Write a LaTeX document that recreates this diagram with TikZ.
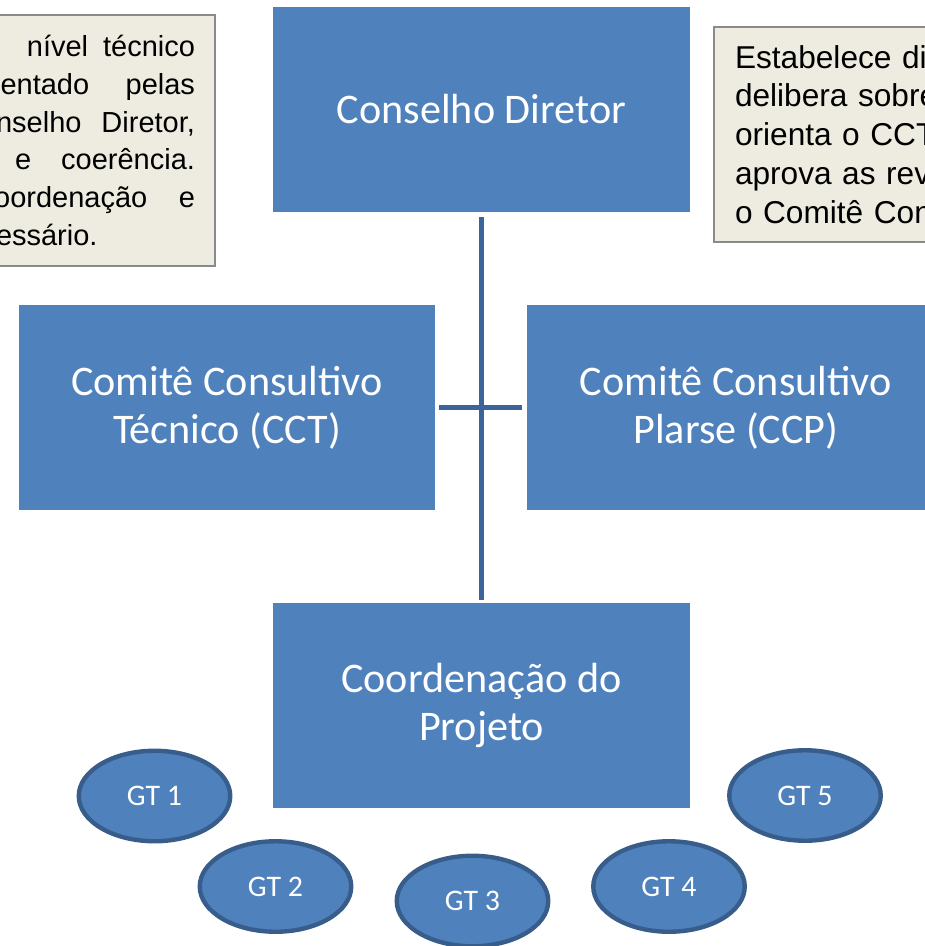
\documentclass[tikz,border=0pt]{standalone}
\usepackage{fontspec}
\setmainfont{Carlito}
\newfontfamily\notafont{Liberation Sans}
\usetikzlibrary{shapes.geometric}
\usetikzlibrary{positioning}
\definecolor{caixa}{HTML}{4F81BD}
\definecolor{borda}{HTML}{385D8A}
\definecolor{linha}{HTML}{3C649B}
\definecolor{nota}{HTML}{EEECE1}
\definecolor{notaborda}{HTML}{8A8A8A}

\begin{document}
\begin{tikzpicture}[x=0.02cm, y=-0.02cm,
    bloco/.style={rectangle, fill=caixa, text=white, minimum width=8.34cm, minimum height=4.1cm,
        align=center, inner sep=0, outer sep=0, font=\fontsize{24}{27.2}\selectfont},
    gt/.style={ellipse, fill=caixa, draw=borda, line width=2.5pt, minimum width=3.03cm,
        minimum height=1.81cm, inner sep=0, text=white, font=\fontsize{17}{20}\selectfont},
    nota/.style={rectangle, fill=nota, draw=notaborda, line width=1.2pt, inner ysep=0},
    ligacao/.style={draw=linha, line width=3.4pt}]
        \useasboundingbox (0,0) rectangle (925,946);
        \clip (0,0) rectangle (925,946);

        \node[bloco] (diretor) at (481.5,109.5) {Conselho Diretor};
        \node[bloco, below=7.82cm of diretor] (coord) {Coordenação do\\Projeto};
        \node[bloco] (cct) at (227,407.5) {Comitê Consultivo\\Técnico (CCT)};
        \node[bloco, right=1.84cm of cct] (ccp) {Comitê Consultivo\\Plarse (CCP)};

        \node[nota, text width=4.3cm, inner xsep=0.4cm, minimum height=5.02cm, align=right,
            font=\notafont\fontsize{16.5}{21.5}\selectfont] (notaesq) at (87.5,140.5)
            {nível\hspace{0.3cm}técnico\\entado\hspace{0.73cm}pelas\\nselho\hspace{0.4cm}Diretor,\\e\hspace{0.6cm}coerência.\\oordenação\hspace{0.63cm}e\\\makebox[3.98cm][l]{essário.}};
        \node[nota, text width=5cm, inner xsep=0.42cm, minimum height=4.3cm, align=left,
            font=\notafont\fontsize{18}{22.1}\selectfont] (notadir) at (860,134.5)
            {Estabelece di\\delibera sobre\\orienta o CCT\\aprova as rev\\o Comitê Con};

        \draw[ligacao, shorten <=0.1cm, shorten >=0.06cm] (diretor) -- (coord);
        \draw[ligacao, shorten <=0.08cm, shorten >=0.1cm] (cct) -- (ccp);

        \node[gt] (gt1) at (154.5,796) {GT 1};
        \node[gt] (gt2) at (275.5,886.5) {GT 2};
        \node[gt] (gt3) at (472.5,901) {GT 3};
        \node[gt] (gt4) at (669,886.5) {GT 4};
        \node[gt] (gt5) at (805,795.5) {GT 5};

\end{tikzpicture}
\end{document}
